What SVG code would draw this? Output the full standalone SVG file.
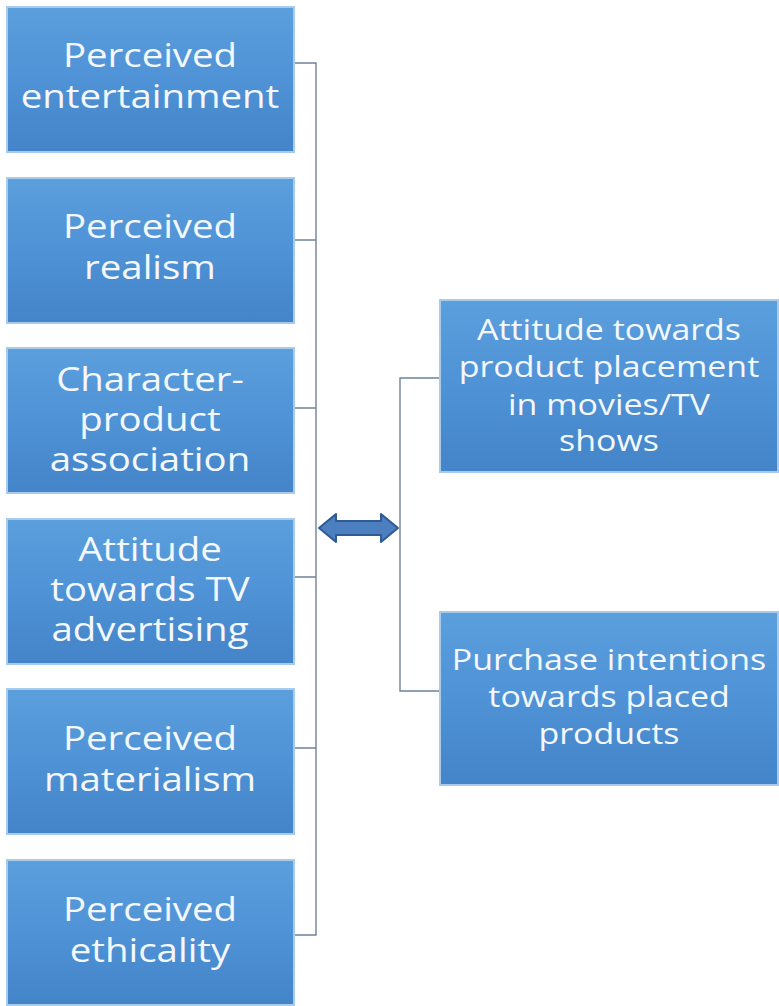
<svg xmlns="http://www.w3.org/2000/svg" width="779" height="1006" viewBox="0 0 779 1006">
  <style>
    .box { fill: url(#boxFill); stroke: #a8cbec; stroke-width: 2; }
    .lbl { font-family: "Open Sans", "Liberation Sans", sans-serif; fill: #f4f8fc; text-anchor: middle; }
    .l { font-size: 32px; }
    .r { font-size: 29px; }
    .wire { fill: none; stroke: #6f8299; stroke-width: 1.4; }
    .dbl { fill: #4b7fc0; stroke: #2f5a92; stroke-width: 2; stroke-linejoin: round; }
  </style>
  <defs>
    <linearGradient id="boxFill" x1="0" y1="0" x2="0" y2="1">
      <stop offset="0" stop-color="#5c9fdd"/>
      <stop offset="0.5" stop-color="#4f92d6"/>
      <stop offset="1" stop-color="#4484c8"/>
    </linearGradient>
  </defs>
  <rect width="779" height="1006" fill="#ffffff"/>

  <!-- connectors -->
  <g id="connectors">
    <path class="wire" d="M295 63 H316 V935 H295"/>
    <path class="wire" d="M295 240 H316 M295 408 H316 M290 577 H316 M295 748 H316"/>
    <path class="wire" d="M440 378 H400 V691 H440"/>
    <polygon class="dbl" points="319,528 336,514 336,521 381,521 381,514 398,528 381,542 381,535 336,535 336,542"/>
  </g>

  <!-- left column: labels are set in a widened face (scaled 1.2 horizontally) -->
  <g id="perceived-entertainment">
    <rect class="box" x="7" y="7" width="287" height="145"/>
    <g transform="translate(150 0) scale(1.2 1)">
      <text class="lbl l" x="0" y="67">Perceived</text>
      <text class="lbl l" x="0" y="108">entertainment</text>
    </g>
  </g>
  <g id="perceived-realism">
    <rect class="box" x="7" y="178" width="287" height="145"/>
    <g transform="translate(150 0) scale(1.2 1)">
      <text class="lbl l" x="0" y="238">Perceived</text>
      <text class="lbl l" x="0" y="279">realism</text>
    </g>
  </g>
  <g id="character-product-association">
    <rect class="box" x="7" y="348" width="287" height="145"/>
    <g transform="translate(150 0) scale(1.2 1)">
      <text class="lbl l" x="0" y="391">Character-</text>
      <text class="lbl l" x="0" y="431">product</text>
      <text class="lbl l" x="0" y="471">association</text>
    </g>
  </g>
  <g id="attitude-tv-advertising">
    <rect class="box" x="7" y="519" width="287" height="145"/>
    <g transform="translate(150 0) scale(1.2 1)">
      <text class="lbl l" x="0" y="561">Attitude</text>
      <text class="lbl l" x="0" y="601">towards TV</text>
      <text class="lbl l" x="0" y="641">advertising</text>
    </g>
  </g>
  <g id="perceived-materialism">
    <rect class="box" x="7" y="689" width="287" height="145"/>
    <g transform="translate(150 0) scale(1.2 1)">
      <text class="lbl l" x="0" y="750">Perceived</text>
      <text class="lbl l" x="0" y="791">materialism</text>
    </g>
  </g>
  <g id="perceived-ethicality">
    <rect class="box" x="7" y="860" width="287" height="145"/>
    <g transform="translate(150 0) scale(1.2 1)">
      <text class="lbl l" x="0" y="921">Perceived</text>
      <text class="lbl l" x="0" y="962">ethicality</text>
    </g>
  </g>

  <!-- right column -->
  <g id="attitude-product-placement">
    <rect class="box" x="440" y="300" width="338" height="172"/>
    <g transform="translate(609 0) scale(1.17 1)">
      <text class="lbl r" x="0" y="340">Attitude towards</text>
      <text class="lbl r" x="0" y="377">product placement</text>
      <text class="lbl r" x="0" y="415">in movies/TV</text>
      <text class="lbl r" x="0" y="451">shows</text>
    </g>
  </g>
  <g id="purchase-intentions">
    <rect class="box" x="440" y="612" width="338" height="173"/>
    <g transform="translate(609 0) scale(1.17 1)">
      <text class="lbl r" x="0" y="670">Purchase intentions</text>
      <text class="lbl r" x="0" y="707">towards placed</text>
      <text class="lbl r" x="0" y="744">products</text>
    </g>
  </g>
</svg>
